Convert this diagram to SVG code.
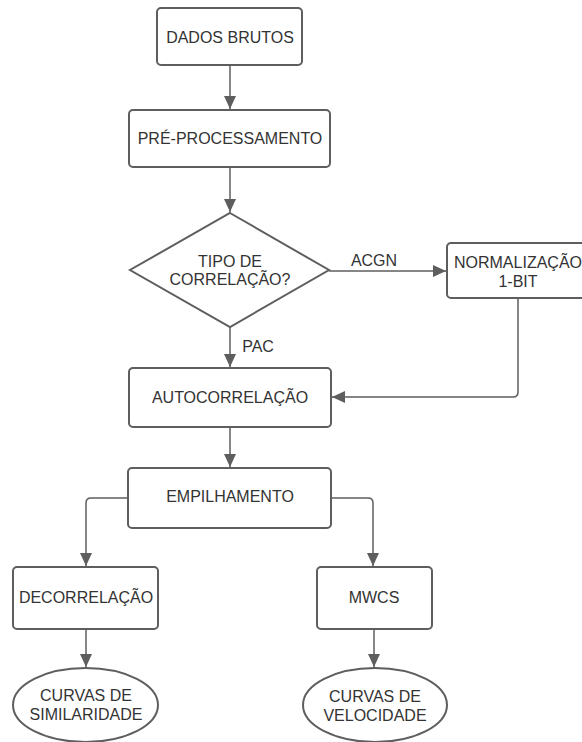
<svg xmlns="http://www.w3.org/2000/svg" width="582" height="742" viewBox="0 0 582 742">
<style>
.n{fill:#ffffff;stroke:#5e5e5e;stroke-width:2}
.t{font-family:"Liberation Sans",Arial,sans-serif;font-size:16px;fill:#333333;text-anchor:middle}
.c{fill:none;stroke:#5e5e5e;stroke-width:1.5}
.l{font-family:"Liberation Sans",Arial,sans-serif;font-size:16px;fill:#333333;text-anchor:middle}
</style>
<defs>
<marker id="ah" markerUnits="userSpaceOnUse" markerWidth="14" markerHeight="12" refX="13" refY="6" orient="auto">
<path d="M0,0 L13,6 L0,12 Z" fill="#5e5e5e"/>
</marker>
</defs>
<rect width="582" height="742" fill="#ffffff"/>
<g id="connectors">
<path class="c" d="M230,65 V109" marker-end="url(#ah)"/>
<path class="c" d="M230,167 V212" marker-end="url(#ah)"/>
<path class="c" d="M329,271 H446" marker-end="url(#ah)"/>
<text class="l" x="374" y="266">ACGN</text>
<path class="c" d="M230,327 V367" marker-end="url(#ah)"/>
<text class="l" x="258" y="352">PAC</text>
<path class="c" d="M518,298 V392 Q518,397 513,397 H332" marker-end="url(#ah)"/>
<path class="c" d="M230,427 V467" marker-end="url(#ah)"/>
<path class="c" d="M128,498 H91 Q86,498 86,503 V566" marker-end="url(#ah)"/>
<path class="c" d="M331,498 H368 Q373,498 373,503 V566" marker-end="url(#ah)"/>
<path class="c" d="M86,629 V667" marker-end="url(#ah)"/>
<path class="c" d="M374,629 V667" marker-end="url(#ah)"/>
</g>
<g id="dados-brutos">
<rect class="n" x="157" y="8" width="145" height="57" rx="4"/>
<text class="t" x="230" y="43">DADOS BRUTOS</text>
</g>
<g id="pre-processamento">
<rect class="n" x="129" y="110" width="201" height="57" rx="4"/>
<text class="t" x="230" y="144">PRÉ-PROCESSAMENTO</text>
</g>
<g id="tipo-correlacao">
<polygon class="n" points="230,213 329,270 230,327 130,270"/>
<text class="t" x="230" y="267">TIPO DE</text>
<text class="t" x="230" y="285">CORRELAÇÃO?</text>
</g>
<g id="normalizacao">
<rect class="n" x="447" y="243" width="142" height="55" rx="4"/>
<text class="t" x="518" y="268">NORMALIZAÇÃO</text>
<text class="t" x="518" y="287">1-BIT</text>
</g>
<g id="autocorrelacao">
<rect class="n" x="129" y="368" width="202" height="59" rx="4"/>
<text class="t" x="230" y="403">AUTOCORRELAÇÃO</text>
</g>
<g id="empilhamento">
<rect class="n" x="128" y="468" width="203" height="60" rx="4"/>
<text class="t" x="230" y="502">EMPILHAMENTO</text>
</g>
<g id="decorrelacao">
<rect class="n" x="13" y="567" width="145" height="62" rx="4"/>
<text class="t" x="86" y="603">DECORRELAÇÃO</text>
</g>
<g id="mwcs">
<rect class="n" x="317" y="567" width="115" height="62" rx="4"/>
<text class="t" x="374" y="603">MWCS</text>
</g>
<g id="curvas-similaridade">
<ellipse class="n" cx="85.5" cy="705" rx="72.5" ry="37"/>
<text class="t" x="86" y="701">CURVAS DE</text>
<text class="t" x="86" y="720">SIMILARIDADE</text>
</g>
<g id="curvas-velocidade">
<ellipse class="n" cx="375" cy="705" rx="72" ry="37"/>
<text class="t" x="375" y="702">CURVAS DE</text>
<text class="t" x="375" y="721">VELOCIDADE</text>
</g>
</svg>
